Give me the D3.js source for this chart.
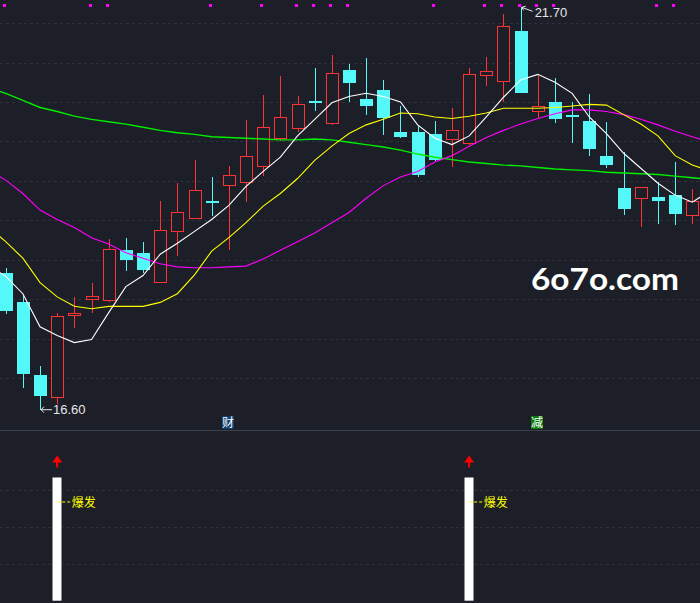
<!DOCTYPE html>
<html><head><meta charset="utf-8">
<script src="https://cdn.jsdelivr.net/npm/d3@7"></script>
<style>html,body{margin:0;padding:0;background:#1c1f27;overflow:hidden}</style>
</head><body>
<svg id="c" width="700" height="603"></svg>
<script>
// ---- data ----
const opens  = [18.33,17.97,17.04,16.76,17.79,18.00,17.99,18.63,18.59,18.22,18.87,19.03,19.24,19.44,19.48,19.69,20.04,20.18,20.51,20.23,20.90,20.54,20.65,20.12,20.12,20.09,20.04,19.98,20.84,20.76,21.40,20.39,20.50,20.33,20.26,19.82,19.41,19.28,19.30,19.32,19.07];
const highs  = [18.39,18.06,17.16,17.83,18.03,18.20,18.76,18.77,18.72,19.24,19.47,19.76,19.55,19.69,20.27,20.59,20.83,20.57,20.93,21.09,20.98,21.06,20.78,20.45,20.19,20.26,20.43,20.93,21.07,21.61,21.70,20.84,20.81,20.50,20.60,20.24,19.86,19.42,19.48,19.74,19.40];
const lows   = [17.81,16.87,16.60,16.67,17.64,17.83,17.97,18.36,18.33,18.20,18.55,19.02,19.05,18.63,19.23,19.56,20.00,20.12,20.39,20.21,20.50,20.33,20.08,20.04,19.55,19.75,19.68,19.95,20.70,20.50,20.62,20.30,20.23,19.98,19.82,19.66,19.07,18.91,18.95,18.94,18.95];
const closes = [17.85,17.05,16.77,17.79,17.82,18.04,18.64,18.50,18.37,18.88,19.11,19.39,19.22,19.57,19.81,20.18,20.31,20.48,20.49,20.87,20.74,20.45,20.30,20.06,19.57,19.76,20.15,20.86,20.89,21.46,20.62,20.45,20.29,20.31,19.90,19.70,19.15,19.42,19.25,19.08,19.25];
// moving-average lines, first value is one bar before the first visible candle, last one bar after
const maWhite   = [18.43,18.29,18.07,17.65,17.54,17.45,17.49,17.83,18.16,18.30,18.57,18.71,18.86,19.01,19.19,19.43,19.62,19.80,20.07,20.28,20.49,20.57,20.61,20.57,20.50,20.21,20.04,19.96,20.07,20.31,20.56,20.78,20.85,20.75,20.61,20.31,20.10,19.85,19.66,19.47,19.32,19.23,19.37];
const maYellow  = [18.92,18.73,18.52,18.21,18.03,17.91,17.88,17.91,17.91,17.91,17.96,18.07,18.31,18.61,18.78,18.97,19.18,19.34,19.53,19.76,19.94,20.10,20.21,20.28,20.36,20.35,20.31,20.29,20.32,20.36,20.42,20.42,20.42,20.43,20.45,20.47,20.46,20.34,20.22,20.07,19.82,19.70,19.63];
const maMagenta = [19.63,19.51,19.34,19.13,19.01,18.91,18.78,18.70,18.59,18.52,18.45,18.41,18.40,18.40,18.41,18.42,18.51,18.62,18.73,18.84,18.97,19.10,19.28,19.44,19.55,19.62,19.74,19.82,19.94,20.05,20.14,20.22,20.29,20.35,20.40,20.40,20.38,20.34,20.28,20.21,20.13,20.06,19.99];
const maGreen   = [20.68,20.61,20.52,20.43,20.38,20.32,20.28,20.25,20.22,20.18,20.14,20.11,20.09,20.06,20.05,20.04,20.03,20.02,20.02,20.03,20.02,19.99,19.96,19.93,19.89,19.84,19.80,19.77,19.74,19.72,19.70,19.69,19.67,19.65,19.64,19.63,19.61,19.60,19.59,19.58,19.56,19.54,19.52];
const gridPrices = [17.0,17.5,18.0,18.5,19.0,19.5,20.0,20.5,21.0,21.5];
const dotSignals = [0,5,6,12,15,17,18,19,20,25,28,29,30,31,32,38,39];
const tags = [{i:13,text:"财",bg:"#0b3d6e"},{i:31,text:"减",bg:"#0a7a0a"}];
const burstBars = [3,27];
const burstValue = 3.33;
const lowPoint = {i:2, label:"16.60"};
const highPoint = {i:30, label:"21.70"};
const lowerGrid = [1,2,3];

// ---- drawing ----
const svg = d3.select("#c");
const W = 700, H = 603;
svg.append("rect").attr("width",W).attr("height",H).attr("fill","#1c1f27");

const x = d3.scaleLinear().domain([0,40]).range([5.7,692.3]);
const y = d3.scaleLinear().domain([16.60,21.70]).range([409.7,7.3]);
const yb = d3.scaleLinear().domain([0,4.6]).range([600.7,430.5]);

// grid
svg.append("g").selectAll("line").data(gridPrices).join("line")
  .attr("x1",0).attr("x2",W)
  .attr("y1",d=>Math.round(y(d))+0.5).attr("y2",d=>Math.round(y(d))+0.5)
  .attr("stroke","#2d313b").attr("stroke-dasharray","3,3");
svg.append("g").selectAll("line").data(lowerGrid).join("line")
  .attr("x1",0).attr("x2",W)
  .attr("y1",d=>Math.round(yb(d))+0.5).attr("y2",d=>Math.round(yb(d))+0.5)
  .attr("stroke","#2d313b").attr("stroke-dasharray","3,3");

// top signal dots
svg.append("g").selectAll("rect").data(dotSignals).join("rect")
  .attr("x",d=>Math.round(x(d))-3).attr("y",4).attr("width",3).attr("height",3)
  .attr("fill","#ff00ff");

// candles
const bw = 12;
const cg = svg.append("g").attr("shape-rendering","crispEdges");
opens.forEach((o,i)=>{
  const c = closes[i], up = c > o;
  const cx = Math.round(x(i)) + 0.5;
  const col = up ? "#ff3333" : "#55f8f8";
  cg.append("line").attr("x1",cx).attr("x2",cx)
    .attr("y1",y(highs[i])).attr("y2",y(lows[i])).attr("stroke",col).attr("stroke-width",1);
  const top = y(Math.max(o,c)), bot = y(Math.min(o,c));
  const h = Math.max(bot-top, 1.5);
  if (up) {
    cg.append("rect").attr("x",cx-bw/2).attr("y",Math.round(top)+0.5)
      .attr("width",bw).attr("height",Math.max(Math.round(h),2))
      .attr("fill","#1c1f27").attr("stroke",col).attr("stroke-width",1);
  } else {
    cg.append("rect").attr("x",cx-bw/2-0.5).attr("y",top)
      .attr("width",bw+1).attr("height",h).attr("fill",col);
  }
});

// MA lines
const line = d3.line().x((d,k)=>x(k-1)).y(d=>y(d));
[[maGreen,"#00ee00",1.4],[maMagenta,"#ff00ff",1.1],[maYellow,"#ffff00",1.1],[maWhite,"#ffffff",1.1]].forEach(([arr,col,sw])=>{
  svg.append("path").datum(arr).attr("d",line).attr("fill","none")
    .attr("stroke",col).attr("stroke-width",sw);
});

// high / low labels
{
  const hx = x(highPoint.i)+1, hy = y(highs[highPoint.i]);
  svg.append("path").attr("d",`M${hx},${hy} L${hx+11},${hy+4} M${hx},${hy} l4,-1 M${hx},${hy} l2,3`)
    .attr("stroke","#e6e6e6").attr("fill","none").attr("stroke-width",1);
  svg.append("text").attr("x",hx+13).attr("y",hy+10).text(highPoint.label)
    .attr("fill","#e6e6ea").attr("font-family","Liberation Sans, Arial, sans-serif").attr("font-size",13);
  const lx = x(lowPoint.i), ly = y(lows[lowPoint.i]);
  svg.append("path").attr("d",`M${lx+1},${ly} L${lx+12},${ly} M${lx+1},${ly} l3,-3 M${lx+1},${ly} l3,3`)
    .attr("stroke","#e6e6e6").attr("fill","none").attr("stroke-width",1);
  svg.append("text").attr("x",lx+13).attr("y",ly+4.5).text(lowPoint.label)
    .attr("fill","#e6e6ea").attr("font-family","Liberation Sans, Arial, sans-serif").attr("font-size",13);
}

// watermark
svg.append("text").attr("x",531).attr("y",290).text("6o7o.com")
  .attr("fill","#ffffff").attr("font-family","Lato, sans-serif").attr("font-weight",700)
  .attr("font-size",30).attr("textLength",148).attr("lengthAdjust","spacingAndGlyphs");

// tags
tags.forEach(t=>{
  const tx = Math.round(x(t.i)) - 7;
  svg.append("rect").attr("x",tx).attr("y",416).attr("width",12).attr("height",13).attr("fill",t.bg);
  svg.append("text").attr("x",tx+6).attr("y",427).attr("text-anchor","middle").text(t.text)
    .attr("fill","#ffffff").attr("font-family","Noto Sans CJK SC").attr("font-size",12);
});

// divider
svg.append("line").attr("x1",0).attr("x2",W).attr("y1",430.5).attr("y2",430.5)
  .attr("stroke","#3b414d").attr("stroke-width",1);

// lower panel bars
burstBars.forEach(i=>{
  const cx = x(i);
  const top = yb(burstValue);
  svg.append("rect").attr("x",Math.round(cx)-4.5).attr("y",top).attr("width",9)
    .attr("height",yb(0)-top).attr("fill","#ffffff");
  const ay = top - 22;
  svg.append("path").attr("d",`M${cx},${ay} L${cx+5},${ay+7} L${cx+1},${ay+7} L${cx+1},${ay+12} L${cx-1},${ay+12} L${cx-1},${ay+7} L${cx-5},${ay+7} Z`)
    .attr("fill","#ff0000");
  const ly = top + 24.5;
  svg.append("line").attr("x1",cx).attr("x2",cx+14).attr("y1",ly).attr("y2",ly)
    .attr("stroke","#ffff00").attr("stroke-dasharray","3,2").attr("stroke-width",1);
  svg.append("text").attr("x",cx+14.5).attr("y",ly+5).text("爆发")
    .attr("fill","#ffff00").attr("font-family","Noto Sans CJK SC").attr("font-size",12);
});
</script>
</body></html>
